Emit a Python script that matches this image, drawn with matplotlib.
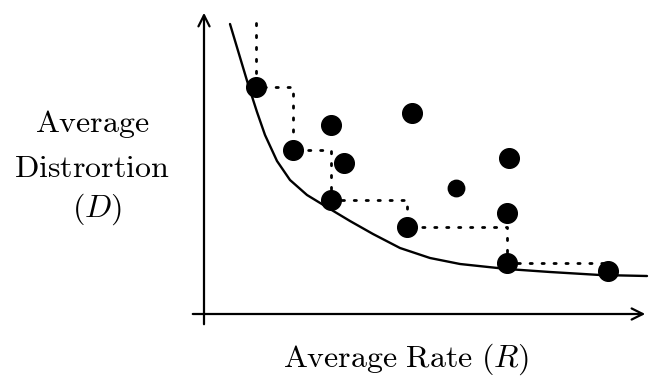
import matplotlib
matplotlib.use("Agg")
import matplotlib.pyplot as plt

plt.rcParams['mathtext.fontset'] = 'cm'

# Operational (frontier) points: rate, distortion
front_R = [1.3, 2.225, 3.175, 5.075, 7.575, 10.1]
front_D = [5.675, 4.1, 2.85, 2.175, 1.275, 1.075]
# Other (non-frontier) points
other_R = [3.175, 3.5, 5.2, 7.625, 7.575]
other_D = [4.725, 3.775, 5.025, 3.9, 2.525]
small_R = [6.3]
small_D = [3.15]
# Staircase start (top of dotted line)
stair_top = 7.275
# Rate-distortion curve
curve_R = [0.65, 0.875, 1.1, 1.325, 1.525, 1.825, 2.15, 2.575, 3.15, 3.65, 4.225,
           4.9, 5.65, 6.4, 7.575, 8.65, 9.9, 11.075]
curve_D = [7.25, 6.5, 5.75, 5.05, 4.475, 3.825, 3.35, 2.975, 2.625, 2.325, 2.0,
           1.65, 1.4, 1.25, 1.125, 1.05, 0.975, 0.95]

fig = plt.figure(figsize=(6.51, 3.78), dpi=100)
ax = fig.add_axes([0, 0, 1, 1])
ax.set_xlim(-5.1, 11.175)
ax.set_ylim(-1.6, 7.85)
ax.axis('off')

# axes arrows
ax.annotate('', xy=(11.1, 0), xytext=(-0.35, 0),
            arrowprops=dict(arrowstyle='->', lw=1.6, color='black', mutation_scale=20))
ax.annotate('', xy=(0, 7.6), xytext=(0, -0.325),
            arrowprops=dict(arrowstyle='->', lw=1.6, color='black', mutation_scale=20))

# curve
ax.plot(curve_R, curve_D, color='black', lw=1.7, zorder=2,
        solid_joinstyle='round', solid_capstyle='round')

# staircase (dotted)
sx = [front_R[0]]
sy = [stair_top]
for i in range(len(front_R)):
    sx.append(front_R[i]); sy.append(front_D[i])
    if i + 1 < len(front_R):
        sx.append(front_R[i + 1]); sy.append(front_D[i])
ax.plot(sx, sy, color='black', lw=2.0, linestyle=(0, (0.8, 3.5)),
        dash_capstyle='round', zorder=2)

# points
ax.scatter(front_R, front_D, s=200, color='black', zorder=3)
ax.scatter(other_R, other_D, s=200, color='black', zorder=3)
ax.scatter(small_R, small_D, s=140, color='black', zorder=3)

# labels
fs = 23
fig.text(406 / 651, 1 - 367 / 378, r'$\mathrm{Average\ Rate}\ (R)$',
         ha='center', va='baseline', fontsize=fs)
fig.text(92 / 651, 1 - 132 / 378, r'$\mathrm{Average}$', ha='center', va='baseline', fontsize=fs)
fig.text(92 / 651, 1 - 177 / 378, r'$\mathrm{Distrortion}$', ha='center', va='baseline', fontsize=fs)
fig.text(97 / 651, 1 - 217 / 378, r'$(D)$', ha='center', va='baseline', fontsize=fs)

fig.savefig('out.png', dpi=100)
